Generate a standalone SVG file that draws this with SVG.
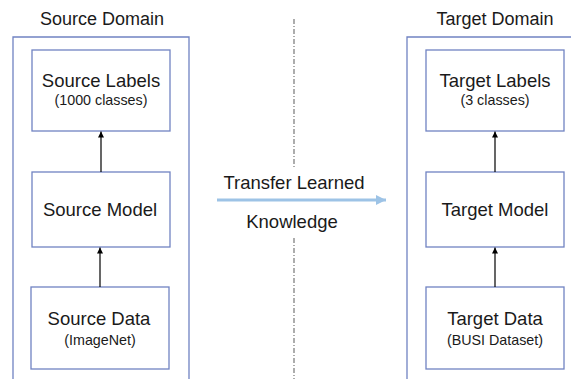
<svg xmlns="http://www.w3.org/2000/svg" width="571" height="379" viewBox="0 0 571 379">
  <style>
    text { font-family: "Liberation Sans", Arial, sans-serif; fill: #1a1a1a; text-anchor: middle; }
    .title { font-size: 18px; }
    .main { font-size: 18.5px; }
    .sub { font-size: 14.3px; }
    .frame { fill: none; stroke: #7083c2; stroke-width: 1.3; }
    .node { fill: #ffffff; stroke: #7083c2; stroke-width: 1.3; }
    .link { stroke: #000000; stroke-width: 1.2; fill: none; marker-end: url(#head); }
    .divider { stroke: #6a6a6a; stroke-width: 1.1; stroke-dasharray: 5 2 1 2; fill: none; }
  </style>
  <defs>
    <marker id="head" viewBox="0 0 10 10" refX="10" refY="5" markerUnits="userSpaceOnUse" markerWidth="6" markerHeight="7" orient="auto">
      <path d="M0,0 L10,5 L0,10 z" fill="#000000"/>
    </marker>
    <marker id="bluehead" viewBox="0 0 10 10" refX="10" refY="5" markerUnits="userSpaceOnUse" markerWidth="11" markerHeight="10" orient="auto">
      <path d="M0,0 L10,5 L0,10 z" fill="#9dc3e6"/>
    </marker>
  </defs>

  <rect width="571" height="379" fill="#ffffff"/>

  <!-- domain frames (open at the page edges) -->
  <g id="source-domain">
    <path class="frame" d="M13,380 V37 H189 V380"/>
    <text class="title" x="102" y="25">Source Domain</text>
  </g>
  <g id="target-domain">
    <path class="frame" d="M407,380 V37 H572"/>
    <text class="title" x="495" y="25">Target Domain</text>
  </g>

  <!-- central divider -->
  <g id="divider">
    <line class="divider" x1="294" y1="19" x2="294" y2="168"/>
    <line class="divider" x1="294" y1="238" x2="294" y2="379"/>
  </g>

  <!-- source side nodes -->
  <g id="source-labels">
    <rect class="node" x="32" y="50" width="138" height="81"/>
    <text class="main" x="101" y="87">Source Labels</text>
    <text class="sub" x="101" y="105">(1000 classes)</text>
  </g>
  <g id="source-model">
    <rect class="node" x="32" y="172" width="138" height="75"/>
    <text class="main" x="100" y="216">Source Model</text>
  </g>
  <g id="source-data">
    <rect class="node" x="31" y="287" width="138" height="82"/>
    <text class="main" x="99" y="325">Source Data</text>
    <text class="sub" x="100" y="345">(ImageNet)</text>
  </g>

  <!-- target side nodes -->
  <g id="target-labels">
    <rect class="node" x="426" y="50" width="138" height="81"/>
    <text class="main" x="495" y="87">Target Labels</text>
    <text class="sub" x="495" y="105">(3 classes)</text>
  </g>
  <g id="target-model">
    <rect class="node" x="426" y="172" width="138" height="75"/>
    <text class="main" x="495" y="216">Target Model</text>
  </g>
  <g id="target-data">
    <rect class="node" x="426" y="287" width="138" height="82"/>
    <text class="main" x="495" y="325">Target Data</text>
    <text class="sub" x="495" y="345">(BUSI Dataset)</text>
  </g>

  <!-- connectors -->
  <g id="connectors">
    <line class="link" x1="101" y1="172" x2="101" y2="131.5"/>
    <line class="link" x1="100" y1="287" x2="100" y2="247.5"/>
    <line class="link" x1="495" y1="172" x2="495" y2="131.5"/>
    <line class="link" x1="495" y1="287" x2="495" y2="247.5"/>
    <line x1="217" y1="200" x2="386" y2="200" stroke="#9dc3e6" stroke-width="3" marker-end="url(#bluehead)"/>
    <text class="main" x="294" y="189">Transfer Learned</text>
    <text class="main" x="292" y="228">Knowledge</text>
  </g>
</svg>
